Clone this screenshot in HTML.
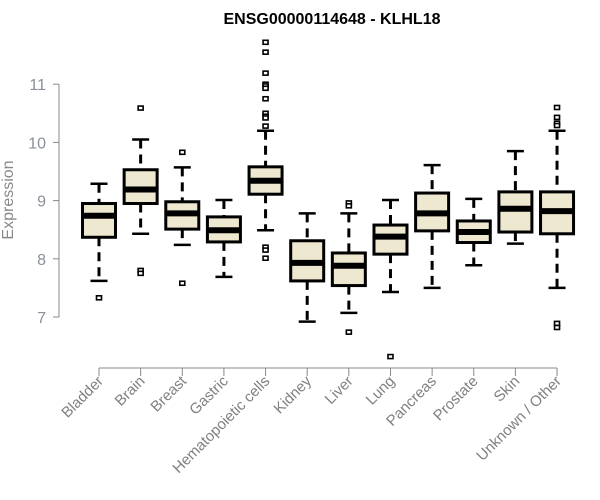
<!DOCTYPE html>
<html><head><meta charset="utf-8"><style>
html,body{margin:0;padding:0;background:#fff;}
svg{display:block;font-family:"Liberation Sans",Arial,sans-serif;}
</style></head><body>
<svg id="chart" width="600" height="500">
<text x="332" y="24" text-anchor="middle" font-weight="bold" font-size="16" fill="#000">ENSG00000114648 - KLHL18</text>
<text transform="translate(13,200) rotate(-90)" text-anchor="middle" font-size="16" fill="#888">Expression</text>
<g id="axes"></g>
<g id="boxes"></g>
</svg>
<script>
const categories=["Bladder","Brain","Breast","Gastric","Hematopoietic cells","Kidney","Liver","Lung","Pancreas","Prostate","Skin","Unknown / Other"];
const whiskLow=[7.62,8.43,8.24,7.69,8.49,6.92,7.07,7.43,7.5,7.89,8.26,7.5];
const q1=[8.37,8.95,8.51,8.29,9.11,7.62,7.54,8.08,8.48,8.28,8.46,8.43];
const medians=[8.74,9.19,8.78,8.49,9.34,7.93,7.88,8.38,8.78,8.46,8.86,8.82];
const q3=[8.95,9.53,8.98,8.72,9.58,8.31,8.1,8.58,9.13,8.65,9.15,9.15];
const whiskHigh=[9.29,10.05,9.57,9.01,10.2,8.78,8.78,9.01,9.61,9.03,9.85,10.2];
const outliers=[[7.33],[10.59,7.8,7.75],[9.83,7.58],[],[11.72,11.55,11.19,11.0,10.97,10.93,10.75,10.5,10.45,10.42,10.28,8.2,8.15,8.01],[],[8.96,8.91,6.74],[6.32],[],[],[],[10.6,10.43,10.33,10.29,6.89,6.82]];
const yTicks=[7,8,9,10,11];
const NS="http://www.w3.org/2000/svg";
function y(v){return 317-(v-7)*58.2;}
function x(i){return 99+i*41.64;}
function mk(tag,attrs,parent){const e=document.createElementNS(NS,tag);for(const k in attrs)e.setAttribute(k,attrs[k]);parent.appendChild(e);return e;}
const ax=document.getElementById('axes');
const bx=document.getElementById('boxes');
let l=mk('line',{x1:59,x2:59,y1:y(11),y2:y(7),stroke:'#888'},ax);


yTicks.forEach(t=>{
 let tk=mk('line',{x1:53,x2:59,y1:y(t),y2:y(t),stroke:'#888'},ax);
 
 
 let tx=mk('text',{x:46,y:y(t)+6,'text-anchor':'end','font-size':16,fill:'#8a8f99'},ax);
 tx.textContent=t;
 
 
});
let xl=mk('line',{x1:x(0),x2:x(categories.length-1),y1:368,y2:368,stroke:'#888'},ax);


categories.forEach((c,i)=>{
 const cx=x(i);
 let tk=mk('line',{x1:cx,x2:cx,y1:368,y2:376,stroke:'#888'},ax);
 
 
 let tx=mk('text',{transform:`translate(${cx+5},382) rotate(-45)`,'text-anchor':'end','font-size':15,fill:'#808080'},ax);
 tx.textContent=c;
 
 
 const g=mk('g',{},bx);
 
 
 const hw=16.5;
 mk('line',{x1:cx,x2:cx,y1:y(whiskHigh[i]),y2:y(q3[i]),stroke:'#000','stroke-width':3,'stroke-dasharray':'9,6'},g);
 mk('line',{x1:cx,x2:cx,y1:y(q1[i]),y2:y(whiskLow[i]),stroke:'#000','stroke-width':3,'stroke-dasharray':'9,6'},g);
 mk('line',{x1:cx-8.5,x2:cx+8.5,y1:y(whiskHigh[i]),y2:y(whiskHigh[i]),stroke:'#000','stroke-width':2.5},g);
 mk('line',{x1:cx-8.5,x2:cx+8.5,y1:y(whiskLow[i]),y2:y(whiskLow[i]),stroke:'#000','stroke-width':2.5},g);
 mk('rect',{x:cx-hw,y:y(q3[i]),width:hw*2,height:y(q1[i])-y(q3[i]),fill:'#ede8cf',stroke:'#000','stroke-width':3},g);
 mk('line',{x1:cx-hw,x2:cx+hw,y1:y(medians[i]),y2:y(medians[i]),stroke:'#000','stroke-width':6},g);
 outliers[i].forEach(o=>{
  let p=mk('rect',{x:cx-2.5,y:y(o)-2,width:5,height:4,fill:'#fff',stroke:'#000','stroke-width':1.6},g);
  
  
 });
});
</script>
</body></html>
